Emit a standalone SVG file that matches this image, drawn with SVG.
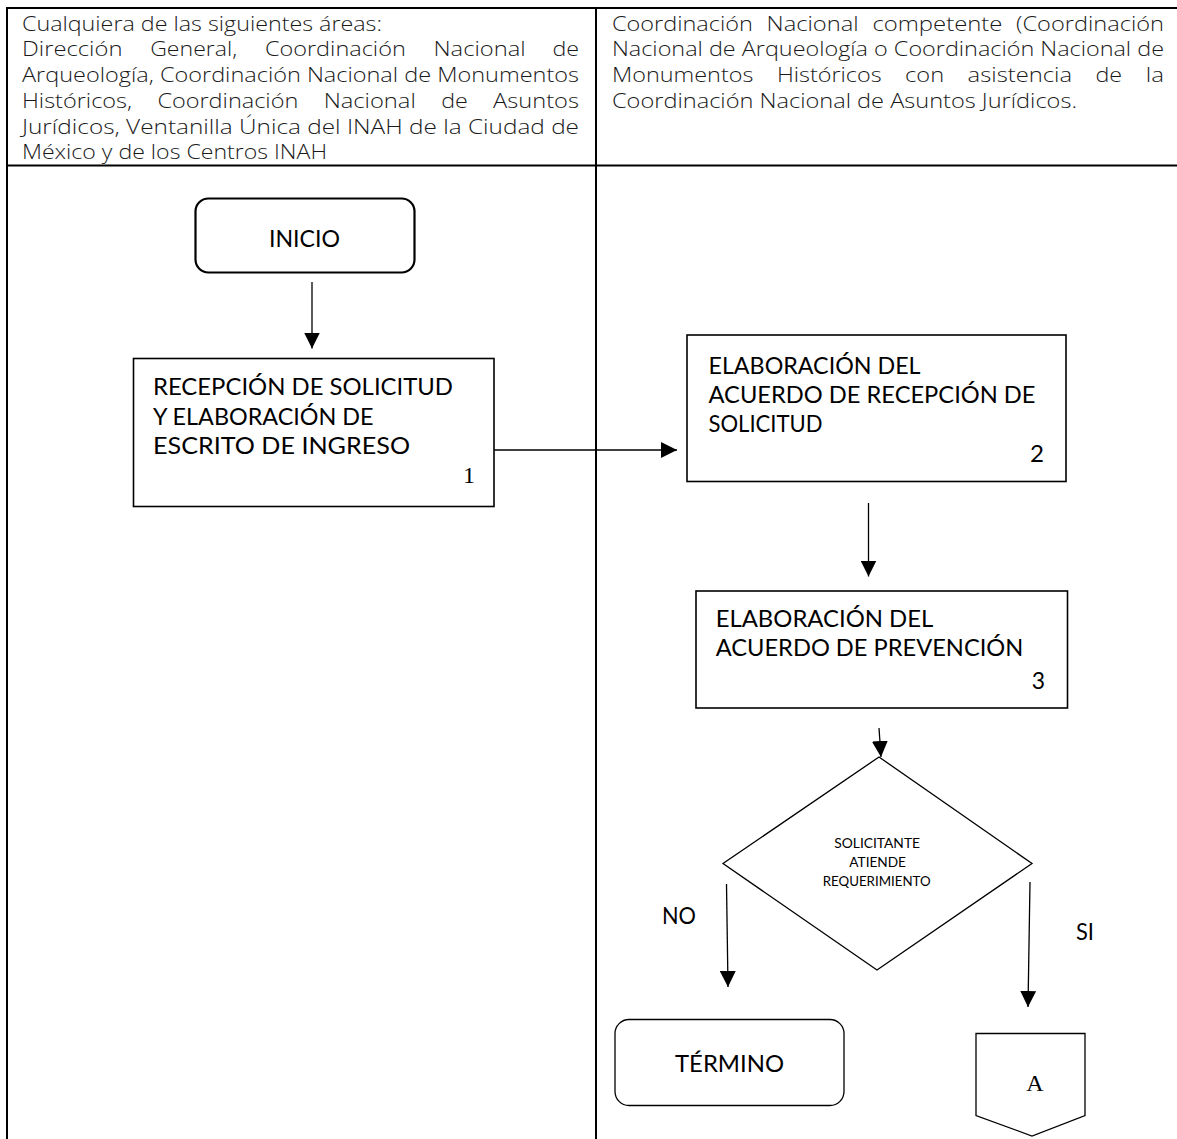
<svg xmlns="http://www.w3.org/2000/svg" width="1177" height="1139" viewBox="0 0 1177 1139">
<style>
.hd{font-family:"Open Sans","Liberation Sans",sans-serif;font-weight:300;font-size:19.5px;fill:#1a1a1a}
.fc{font-family:Lato,"Open Sans","Liberation Sans",sans-serif;font-size:24px;fill:#000}
.sm{font-size:14px}
.ser{font-family:"Liberation Serif",serif;font-size:24px;fill:#000}
.grid{stroke:#000;stroke-width:2;fill:none}
.box{fill:#fff;stroke:#000;stroke-width:1.6}
.edge{stroke:#000;stroke-width:1.3;fill:none;marker-end:url(#ah)}
</style>
<defs>
<marker id="ah" viewBox="0 0 16 16" markerWidth="16" markerHeight="16" refX="16" refY="8" orient="auto" markerUnits="userSpaceOnUse">
<path d="M0,0 L16,8 L0,16 Z" fill="#000"/>
</marker>
</defs>
<rect width="1177" height="1139" fill="#fff"/>
<g id="lanes">
<path class="grid" d="M7,1139 V8 H1177 M7,165.5 H1177 M596,8 V1139"/>
</g>
<g id="header-left">
<text class="hd" x="22" y="30.5" textLength="360" lengthAdjust="spacingAndGlyphs">Cualquiera de las siguientes áreas:</text>
<text class="hd" x="22" y="56.3" textLength="100.5" lengthAdjust="spacingAndGlyphs">Dirección</text>
<text class="hd" x="150.2" y="56.3" textLength="87" lengthAdjust="spacingAndGlyphs">General,</text>
<text class="hd" x="264.9" y="56.3" textLength="140.9" lengthAdjust="spacingAndGlyphs">Coordinación</text>
<text class="hd" x="433.5" y="56.3" textLength="92.1" lengthAdjust="spacingAndGlyphs">Nacional</text>
<text class="hd" x="552.4" y="56.3" textLength="26.6" lengthAdjust="spacingAndGlyphs">de</text>
<text class="hd" x="22" y="82.3" textLength="557" lengthAdjust="spacingAndGlyphs">Arqueología, Coordinación Nacional de Monumentos</text>
<text class="hd" x="22" y="108" textLength="110" lengthAdjust="spacingAndGlyphs">Históricos,</text>
<text class="hd" x="157.4" y="108" textLength="140.9" lengthAdjust="spacingAndGlyphs">Coordinación</text>
<text class="hd" x="323.7" y="108" textLength="92.1" lengthAdjust="spacingAndGlyphs">Nacional</text>
<text class="hd" x="441.2" y="108" textLength="26.6" lengthAdjust="spacingAndGlyphs">de</text>
<text class="hd" x="493.1" y="108" textLength="85.9" lengthAdjust="spacingAndGlyphs">Asuntos</text>
<text class="hd" x="22" y="133.5" textLength="557" lengthAdjust="spacingAndGlyphs">Jurídicos, Ventanilla Única del INAH de la Ciudad de</text>
<text class="hd" x="22" y="159" textLength="305" lengthAdjust="spacingAndGlyphs">México y de los Centros INAH</text>
</g>
<g id="header-right">
<text class="hd" x="612" y="30.5" textLength="140.9" lengthAdjust="spacingAndGlyphs">Coordinación</text>
<text class="hd" x="766.6" y="30.5" textLength="92.1" lengthAdjust="spacingAndGlyphs">Nacional</text>
<text class="hd" x="872.4" y="30.5" textLength="130.1" lengthAdjust="spacingAndGlyphs">competente</text>
<text class="hd" x="1016" y="30.5" textLength="148" lengthAdjust="spacingAndGlyphs">(Coordinación</text>
<text class="hd" x="612" y="56.3" textLength="552" lengthAdjust="spacingAndGlyphs">Nacional de Arqueología o Coordinación Nacional de</text>
<text class="hd" x="612" y="82.3" textLength="141.4" lengthAdjust="spacingAndGlyphs">Monumentos</text>
<text class="hd" x="776.9" y="82.3" textLength="104.7" lengthAdjust="spacingAndGlyphs">Históricos</text>
<text class="hd" x="905.1" y="82.3" textLength="39" lengthAdjust="spacingAndGlyphs">con</text>
<text class="hd" x="967.6" y="82.3" textLength="104.4" lengthAdjust="spacingAndGlyphs">asistencia</text>
<text class="hd" x="1095.5" y="82.3" textLength="26.6" lengthAdjust="spacingAndGlyphs">de</text>
<text class="hd" x="1145.8" y="82.3" textLength="18.2" lengthAdjust="spacingAndGlyphs">la</text>
<text class="hd" x="612" y="108" textLength="465" lengthAdjust="spacingAndGlyphs">Coordinación Nacional de Asuntos Jurídicos.</text>
</g>
<g id="connectors">
<path class="edge" d="M312,282 L312,348.5"/>
<path class="edge" d="M494,450 L677,450"/>
<path class="edge" d="M868.5,503 L868.5,576.5"/>
<path class="edge" d="M879,728 L881,757"/>
<path class="edge" d="M726.5,884 L728,987"/>
<path class="edge" d="M1030,882 L1028,1007"/>
</g>
<g id="inicio">
<rect x="195.5" y="198.5" width="219" height="74" rx="13" fill="#fff" stroke="#000" stroke-width="2.2"/>
<text class="fc" x="269" y="247.3" font-size="25" textLength="71" lengthAdjust="spacingAndGlyphs">INICIO</text>
</g>
<g id="n1">
<rect class="box" x="133.5" y="358.5" width="360.5" height="148" stroke-width="1.3"/>
<text class="fc" x="153" y="394.5" textLength="300" lengthAdjust="spacingAndGlyphs">RECEPCIÓN DE SOLICITUD</text>
<text class="fc" x="153" y="424.5" textLength="220.5" lengthAdjust="spacingAndGlyphs">Y ELABORACIÓN DE</text>
<text class="fc" x="153" y="454" textLength="257" lengthAdjust="spacingAndGlyphs">ESCRITO DE INGRESO</text>
<text class="ser" x="463" y="483.3">1</text>
</g>
<g id="n2">
<rect class="box" x="687" y="335" width="379" height="146.5" stroke-width="2"/>
<text class="fc" x="708.5" y="373.5" textLength="212" lengthAdjust="spacingAndGlyphs">ELABORACIÓN DEL</text>
<text class="fc" x="708.5" y="402.5" textLength="327" lengthAdjust="spacingAndGlyphs">ACUERDO DE RECEPCIÓN DE</text>
<text class="fc" x="708.5" y="431.5" textLength="114" lengthAdjust="spacingAndGlyphs">SOLICITUD</text>
<text class="fc" x="1030" y="461.7" font-size="25" textLength="14" lengthAdjust="spacingAndGlyphs">2</text>
</g>
<g id="n3">
<rect class="box" x="696" y="591" width="371.5" height="117" stroke-width="2"/>
<text class="fc" x="715.7" y="627" textLength="217.6" lengthAdjust="spacingAndGlyphs">ELABORACIÓN DEL</text>
<text class="fc" x="715.7" y="656" textLength="307.6" lengthAdjust="spacingAndGlyphs">ACUERDO DE PREVENCIÓN</text>
<text class="fc" x="1031.7" y="689" font-size="25" textLength="13.3" lengthAdjust="spacingAndGlyphs">3</text>
</g>
<g id="decision">
<polygon points="879,757 1032,863.5 877,970 723,863.5" fill="#fff" stroke="#000" stroke-width="1.3"/>
<text class="fc sm" x="834.3" y="847.5" textLength="85.7" lengthAdjust="spacingAndGlyphs">SOLICITANTE</text>
<text class="fc sm" x="849.3" y="866.5" textLength="56.7" lengthAdjust="spacingAndGlyphs">ATIENDE</text>
<text class="fc sm" x="822.7" y="885.5" textLength="108" lengthAdjust="spacingAndGlyphs">REQUERIMIENTO</text>
</g>
<g id="label-no">
<text class="fc" x="662" y="923.5" font-size="21" textLength="34" lengthAdjust="spacingAndGlyphs">NO</text>
</g>
<g id="label-si">
<text class="fc" x="1076" y="940" font-size="21" textLength="18" lengthAdjust="spacingAndGlyphs">SI</text>
</g>
<g id="termino">
<rect x="615" y="1019.5" width="229" height="86" rx="14" fill="#fff" stroke="#000" stroke-width="1.3"/>
<text class="fc" x="675" y="1071.7" font-size="25" textLength="109" lengthAdjust="spacingAndGlyphs">TÉRMINO</text>
</g>
<g id="connector-a">
<polygon points="976,1033.5 1085,1033.5 1085,1115.5 1032,1136 976,1115.5" fill="#fff" stroke="#000" stroke-width="1.3"/>
<text class="ser" x="1035" y="1090.5" font-size="22" text-anchor="middle">A</text>
</g>
</svg>
